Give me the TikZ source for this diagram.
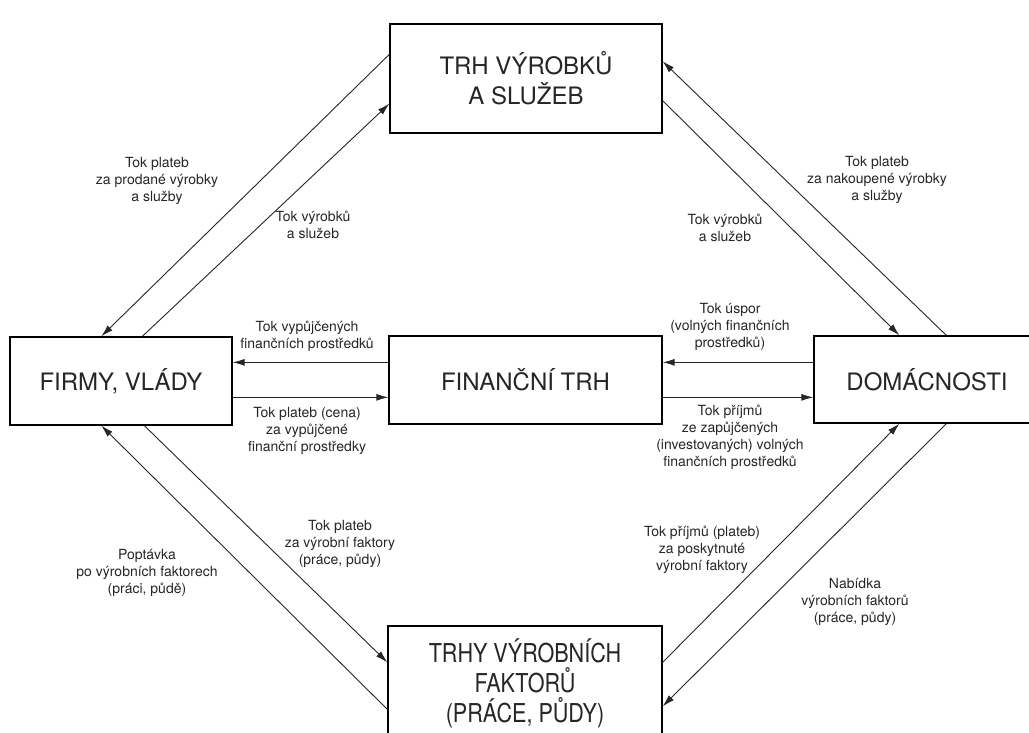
\documentclass[tikz,border=0pt]{standalone}
\usepackage{fontspec}
\setmainfont{TeX Gyre Heros}
\newfontfamily\narrowfont[FakeStretch=0.83]{TeX Gyre Heros}
\usetikzlibrary{arrows.meta}

\begin{document}
\begin{tikzpicture}[x=1pt, y=-1pt]
    % Definición de estilos
    \tikzstyle{caja}=[draw, line width=1.3pt, align=center, inner sep=0pt, text=black!85, font=\fontsize{24}{30}\selectfont]
    \tikzstyle{flujo}=[-{Latex[length=12pt, width=7pt]}, line width=0.9pt, black!85]
    \tikzstyle{rotulo}=[align=center, text=black!85, font=\fontsize{14}{17}\selectfont]
    % Marco de la figura
    \useasboundingbox (0,0) rectangle (1029,733);
    \fill[white] (0,0) rectangle (1029,733);
    \clip (0,0) rectangle (1029,733);
    % Mercados y sectores
    \node[caja, minimum width=272pt, minimum height=109pt] (vyrobky) at (526,78.5) {TRH VÝROBKŮ\\A SLUŽEB};
    \node[caja, minimum width=222pt, minimum height=88pt] (firmy) at (121,381) {FIRMY, VLÁDY};
    \node[caja, minimum width=273pt, minimum height=88pt] (trh) at (525.5,380) {FINANČNÍ TRH};
    \node[caja, minimum width=226pt, minimum height=87pt] (domac) at (927,379.5) {DOMÁCNOSTI};
    \node[caja, font=\narrowfont\fontsize{26}{30}\selectfont, minimum width=274pt, minimum height=114pt] (faktory) at (525,683) {TRHY VÝROBNÍCH\\FAKTORŮ\\(PRÁCE, PŮDY)};
    % Flujos hacia el mercado de productos
    \draw[flujo] ([yshift=-31pt]vyrobky.north west) -- ([xshift=92pt]firmy.north west);
    \draw[flujo] ([xshift=133pt]firmy.north west) -- ([yshift=30pt]vyrobky.south west);
    \draw[flujo] ([xshift=133pt]domac.north west) -- ([yshift=-38pt]vyrobky.north east);
    \draw[flujo] ([yshift=33pt]vyrobky.south east) -- ([xshift=86pt]domac.north west);
    % Flujos del mercado financiero
    \draw[flujo] ([yshift=-27pt]trh.north west) -- ([yshift=-26pt]firmy.north east);
    \draw[flujo] ([yshift=-61pt]firmy.north east) -- ([yshift=-62pt]trh.north west);
    \draw[flujo] ([yshift=-27pt]domac.north west) -- ([yshift=-27pt]trh.north east);
    \draw[flujo] ([yshift=-62pt]trh.north east) -- ([yshift=-62pt]domac.north west);
    % Flujos hacia el mercado de factores
    \draw[flujo] ([yshift=-84pt]faktory.north west) -- ([xshift=92pt]firmy.south west);
    \draw[flujo] ([xshift=135pt]firmy.south west) -- ([yshift=-37pt]faktory.north west);
    \draw[flujo] ([yshift=-37pt]faktory.north east) -- ([xshift=86pt]domac.south west);
    \draw[flujo] ([xshift=133pt]domac.south west) -- ([yshift=-81pt]faktory.north east);
    % Rótulos de los flujos
    \node[rotulo] (l1) at (157,181) {Tok plateb\\za prodané výrobky\\a služby};
    \node[rotulo] (l2) at (313,225) {Tok výrobků\\a služeb};
    \node[rotulo] (l3) at (877,180) {Tok plateb\\za nakoupené výrobky\\a služby};
    \node[rotulo] (l4) at (725,228) {Tok výrobků\\a služeb};
    \node[rotulo] (l5) at (307,336) {Tok vypůjčených\\finančních prostředků};
    \node[rotulo] (l6) at (307,431) {Tok plateb (cena)\\za vypůjčené\\finanční prostředky};
    \node[rotulo] (l7) at (730,327) {Tok úspor\\(volných finančních\\prostředků)};
    \node[rotulo] (l8) at (730,437) {Tok příjmů\\ze zapůjčených\\(investovaných) volných\\finančních prostředků};
    \node[rotulo] (l9) at (340,544) {Tok plateb\\za výrobní faktory\\(práce, půdy)};
    \node[rotulo] (l10) at (147,573) {Poptávka\\po výrobních faktorech\\(práci, půdě)};
    \node[rotulo] (l11) at (702,550) {Tok příjmů (plateb)\\za poskytnuté\\výrobní faktory};
    \node[rotulo] (l12) at (855,602) {Nabídka\\výrobních faktorů\\(práce, půdy)};
\end{tikzpicture}
\end{document}
